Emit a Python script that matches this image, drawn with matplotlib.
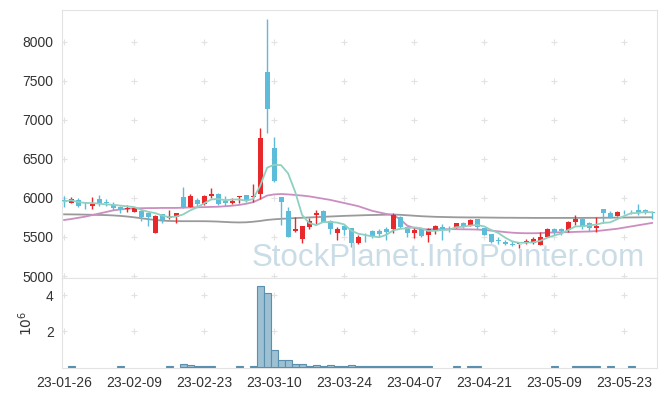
import numpy as np
import pandas as pd
import matplotlib
matplotlib.use("Agg")
import matplotlib.pyplot as plt

# ---- data (KRW, daily) ----
tick_labels = ['23-01-26', '23-02-09', '23-02-23', '23-03-10', '23-03-24',
               '23-04-07', '23-04-21', '23-05-09', '23-05-23']

opens = [5970, 5940, 5975, 5915, 5900, 5980, 5945, 5905, 5890, 5860,
         5825, 5835, 5810, 5555, 5795, 5738, 5759, 6015, 5890, 5973,
         5918, 6024, 6050, 5955, 5930, 6007, 6037, 6007, 6045, 7615,
         6634, 6010, 5832, 5580, 5470, 5631, 5779, 5832, 5710, 5555,
         5640, 5618, 5418, 5530, 5576, 5576, 5602, 5602, 5760, 5632,
         5555, 5598, 5525, 5580, 5623, 5620, 5623, 5674, 5644, 5730,
         5618, 5538, 5460, 5440, 5410, 5405, 5426, 5426, 5397, 5503,
         5598, 5602, 5589, 5687, 5726, 5674, 5610, 5853, 5802, 5768,
         5820, 5825, 5845, 5845, 5824]
highs = [6020, 6010, 6000, 5950, 6010, 6035, 5980, 5950, 5895, 5910,
         5880, 5840, 5815, 5785, 5800, 5850, 5802, 6143, 6050, 5997,
         6037, 6122, 6058, 6030, 6000, 6030, 6040, 6178, 6890, 8286,
         6783, 6015, 5887, 5760, 5640, 5742, 5845, 5840, 5720, 5631,
         5653, 5620, 5525, 5546, 5590, 5602, 5623, 5810, 5770, 5640,
         5618, 5600, 5615, 5653, 5661, 5640, 5680, 5690, 5730, 5735,
         5620, 5540, 5500, 5460, 5450, 5440, 5480, 5500, 5567, 5610,
         5610, 5620, 5700, 5781, 5740, 5690, 5750, 5855, 5830, 5830,
         5850, 5850, 5922, 5860, 5830]
lows = [5880, 5935, 5890, 5860, 5855, 5895, 5895, 5845, 5805, 5815,
        5815, 5705, 5635, 5550, 5675, 5726, 5682, 5866, 5880, 5900,
        5909, 5994, 5909, 5900, 5920, 5937, 5951, 5950, 5982, 6835,
        6210, 5653, 5503, 5560, 5426, 5598, 5653, 5687, 5538, 5461,
        5525, 5376, 5410, 5440, 5490, 5503, 5461, 5546, 5610, 5500,
        5490, 5505, 5440, 5534, 5461, 5560, 5610, 5620, 5635, 5600,
        5520, 5420, 5410, 5400, 5380, 5354, 5410, 5410, 5397, 5495,
        5525, 5525, 5570, 5653, 5600, 5580, 5567, 5674, 5740, 5765,
        5790, 5790, 5781, 5790, 5730]
closes = [5955, 5985, 5900, 5905, 5925, 5920, 5935, 5875, 5855, 5875,
          5875, 5760, 5750, 5770, 5720, 5768, 5802, 5880, 6028, 5918,
          6024, 6050, 5918, 5940, 5964, 6028, 5973, 6028, 6770, 7134,
          6220, 5943, 5503, 5602, 5640, 5704, 5813, 5695, 5605, 5605,
          5589, 5418, 5495, 5520, 5516, 5534, 5567, 5781, 5623, 5555,
          5589, 5516, 5598, 5640, 5598, 5612, 5674, 5632, 5717, 5632,
          5525, 5440, 5452, 5410, 5397, 5426, 5452, 5470, 5503, 5598,
          5567, 5580, 5695, 5726, 5623, 5610, 5640, 5802, 5760, 5824,
          5815, 5820, 5824, 5815, 5802]

ma20 = [5717, 5730, 5745, 5760, 5780, 5800, 5820, 5840, 5852, 5860,
        5866, 5868, 5870, 5870, 5872, 5872, 5872, 5875, 5878, 5880,
        5882, 5885, 5887, 5893, 5900, 5910, 5925, 5945, 5985, 6030,
        6045, 6050, 6045, 6038, 6030, 6020, 6005, 5990, 5975, 5955,
        5935, 5915, 5895, 5865, 5835, 5815, 5795, 5783, 5726, 5647,
        5615, 5600, 5598, 5600, 5600, 5600, 5600, 5598, 5597, 5595,
        5590, 5582, 5572, 5563, 5555, 5550, 5548, 5548, 5550, 5555,
        5558, 5560, 5562, 5565, 5568, 5570, 5575, 5585, 5595, 5605,
        5620, 5635, 5650, 5665, 5680]
ma60 = [5790, 5789, 5788, 5786, 5784, 5782, 5780, 5776, 5770, 5762,
        5752, 5740, 5728, 5718, 5710, 5705, 5703, 5702, 5702, 5702,
        5702, 5700, 5697, 5692, 5688, 5686, 5688, 5695, 5705, 5718,
        5726, 5732, 5737, 5742, 5746, 5750, 5754, 5758, 5762, 5766,
        5770, 5773, 5776, 5779, 5781, 5783, 5785, 5786, 5784, 5778,
        5772, 5766, 5762, 5758, 5756, 5754, 5752, 5751, 5750, 5750,
        5749, 5748, 5747, 5746, 5746, 5745, 5745, 5744, 5744, 5744,
        5744, 5744, 5744, 5744, 5744, 5745, 5745, 5746, 5747, 5748,
        5749, 5750, 5751, 5752, 5752]

volumes = [0, 40000, 0, 0, 0, 0, 0, 0, 40000, 0,
           0, 0, 0, 0, 0, 40000, 0, 200000, 100000, 50000,
           50000, 50000, 0, 0, 0, 40000, 0, 40000, 4500000, 4090000,
           940000, 390000, 390000, 170000, 170000, 60000, 100000, 50000, 100000, 50000,
           50000, 100000, 40000, 40000, 40000, 40000, 40000, 40000, 40000, 40000,
           40000, 40000, 40000, 0, 0, 0, 40000, 0, 40000, 40000,
           0, 0, 0, 0, 0, 0, 0, 0, 0, 0,
           40000, 0, 0, 40000, 40000, 40000, 40000, 0, 40000, 0,
           0, 40000, 0, 0, 0]

# ---- styles ----
up_color = '#e8282b'
down_color = '#5dbcd9'
grid_color = '#e2e2e2'
spine_color = '#e3e3e3'
text_color = '#333333'

plt.rcParams['font.family'] = ['Liberation Sans', 'DejaVu Sans']

o = np.array(opens, dtype=float)
h = np.array(highs, dtype=float)
l = np.array(lows, dtype=float)
c = np.array(closes, dtype=float)
v = np.array(volumes, dtype=float) / 1e6
idx = np.arange(len(c))
ma5 = pd.Series(c).rolling(5, min_periods=1).mean().values

fig = plt.figure(figsize=(6.65, 3.96), dpi=100)
ax = fig.add_axes([62 / 665, 1 - 278 / 396, 595 / 665, 268 / 396])
axv = fig.add_axes([62 / 665, 1 - 368 / 396, 595 / 665, 90 / 396], sharex=ax)

# candles
up = c >= o
colors = np.where(up, up_color, down_color)
ax.vlines(idx, l, h, colors=colors, linewidth=1.0, zorder=3)
body_lo = np.minimum(o, c)
body_h = np.maximum(np.abs(c - o), 6)
ax.bar(idx, body_h, bottom=body_lo, width=0.72, color=colors, linewidth=0, zorder=4)

# moving averages
ax.plot(idx, ma60, color='#9a9a9a', linewidth=1.3, zorder=2)
ax.plot(idx, ma20, color='#cc8ec0', linewidth=1.3, zorder=2)
ax.plot(idx, ma5, color='#8fd0c0', linewidth=1.3, zorder=5)

# volume
mask = v > 0
axv.bar(idx[mask], v[mask], width=1.0, color='#9dc0d2', edgecolor='#5a8fae',
        linewidth=0.8, zorder=3)

xt = np.arange(0, len(c), 10)[:len(tick_labels)]
ax.set_xlim(-0.3, 84.7)
ax.set_ylim(4975, 8405)
yt = np.arange(5000, 8001, 500)
ax.set_yticks(yt)
axv.set_ylim(-0.05, 4.95)
axv.set_yticks([2, 4])
axv.set_xticks(xt)
axv.set_xticklabels(tick_labels)
axv.set_ylabel('$10^6$', color=text_color, fontsize=10, labelpad=8)

# '+' grid markers at tick intersections
gx, gy = np.meshgrid(xt, yt)
ax.plot(gx.ravel(), gy.ravel(), '+', color=grid_color, markersize=4, mew=0.8, zorder=1)
gx, gy = np.meshgrid(xt, [2, 4])
axv.plot(gx.ravel(), gy.ravel(), '+', color=grid_color, markersize=4, mew=0.8, zorder=1)

for a in (ax, axv):
    for s in a.spines.values():
        s.set_color(spine_color)
    a.tick_params(length=0, colors=text_color, labelsize=10, pad=6)
ax.tick_params(axis='x', labelbottom=False)

ax.text(0.98, 0.02, 'StockPlanet.InfoPointer.com', transform=ax.transAxes,
        ha='right', va='bottom', fontsize=22.5, color='#cadce6', zorder=6,
        family=['Liberation Sans Narrow', 'Liberation Sans', 'DejaVu Sans'])

fig.savefig('out.png', dpi=100)
